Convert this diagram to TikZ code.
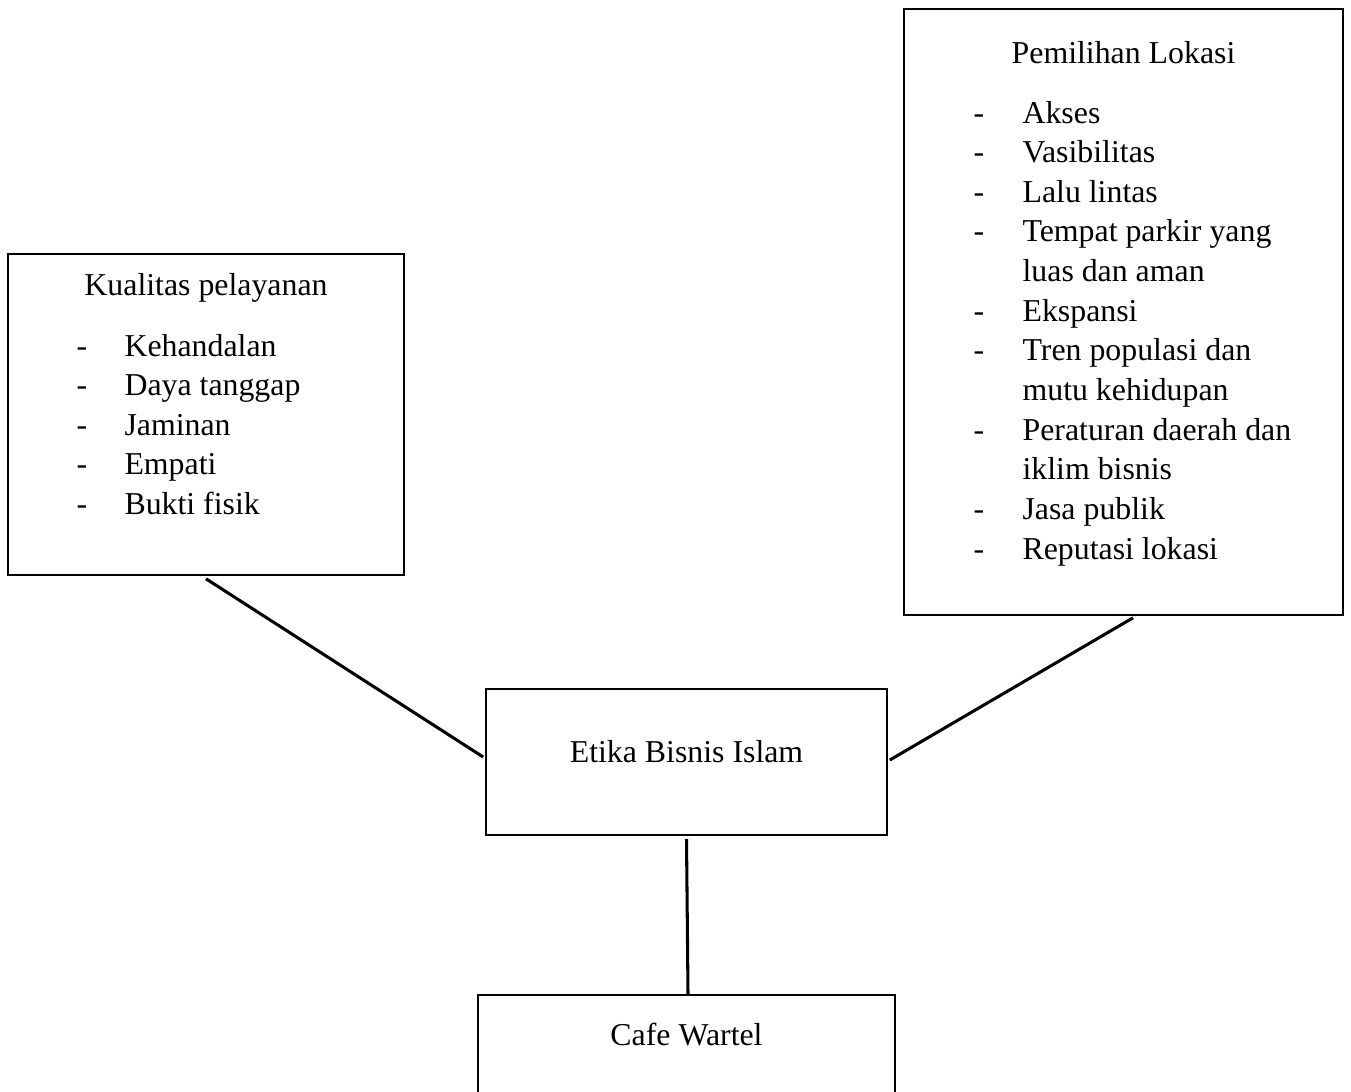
\documentclass[tikz,border=0pt]{standalone}
\usepackage{fontspec}
\setmainfont{Liberation Serif}
\usepackage{tikz}
\usetikzlibrary{positioning}

\newcommand{\px}{0.377pt}

\begin{document}
\begin{tikzpicture}
[
x=\px, y=-\px,
box-a/.style={rectangle,draw,line width=0.6pt,inner sep=0pt},
text-a/.style={black,anchor=base,inner sep=0pt,font=\fontsize{12}{14.95}\selectfont},
list-a/.style={black,anchor=base west,inner sep=0pt,font=\fontsize{12}{14.95}\selectfont},
link-a/.style={line width=1.15pt},
]
\useasboundingbox (0,0) rectangle (1351,1091);
\node (b1) [box-a, minimum width=396*\px, minimum height=321*\px] at (206,414.5)  {};
\node (b2) [box-a, minimum width=439*\px, minimum height=606*\px] at (1123.5,312) {};
\node (b3) [box-a, minimum width=401*\px, minimum height=146*\px] at (686.5,762)  {};
\node (b4) [box-a, minimum width=417*\px, minimum height=146*\px] at (686.5,1068) {};
\node (t1) [text-a] at (206,295)    {Kualitas pelayanan};
\node (t2) [text-a] at (1123.5,63)  {Pemilihan Lokasi};
\node (t3) [text-a] at (686.5,762)  {Etika Bisnis Islam};
\node (t4) [text-a] at (686.5,1045) {Cafe Wartel};
\node (l1) [list-a] at (76,356) {%
  \begin{tabular}[t]{@{}p{18.1pt}@{}l@{}}
  - & Kehandalan\\
  - & Daya tanggap\\
  - & Jaminan\\
  - & Empati\\
  - & Bukti fisik
  \end{tabular}};
\node (l2) [list-a] at (973,123) {%
  \begin{tabular}[t]{@{}p{18.5pt}@{}l@{}}
  - & Akses\\
  - & Vasibilitas\\
  - & Lalu lintas\\
  - & Tempat parkir yang\\
    & luas dan aman\\
  - & Ekspansi\\
  - & Tren populasi dan\\
    & mutu kehidupan\\
  - & Peraturan daerah dan\\
    & iklim bisnis\\
  - & Jasa publik\\
  - & Reputasi lokasi
  \end{tabular}};
\draw [link-a] ([yshift=-3*\px]b1.south) -- ([xshift=-2*\px, yshift=5*\px]b3.west);
\draw [link-a] ([xshift=9.5*\px, yshift=-2*\px]b2.south) -- ([xshift=2*\px, yshift=2*\px]b3.east);
\draw [link-a] ([yshift=-3*\px]b3.south) -- ([xshift=1.5*\px]b4.north);
\end{tikzpicture}
\end{document}
